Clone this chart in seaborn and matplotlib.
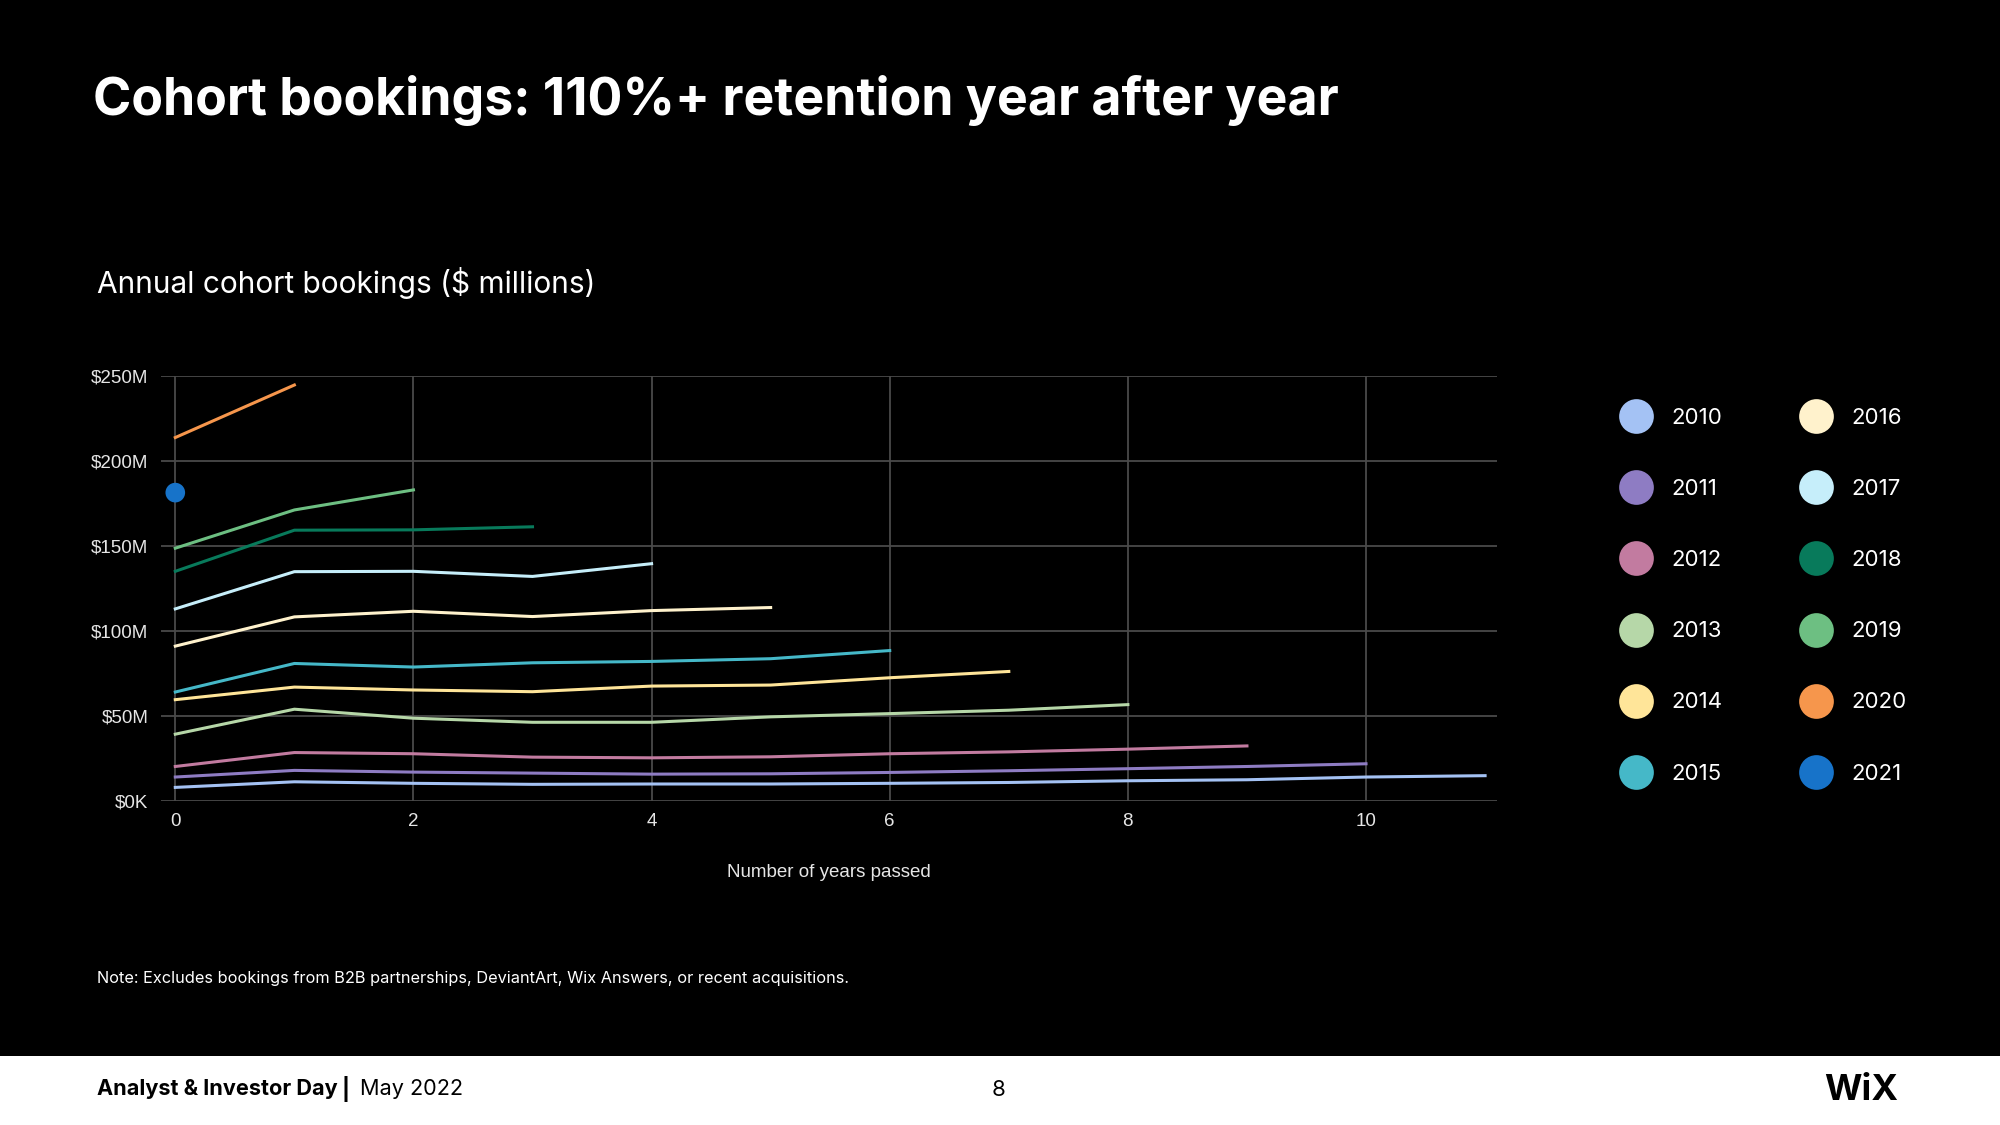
import pandas as pd
import seaborn as sns
import matplotlib
import matplotlib.pyplot as plt
from matplotlib.lines import Line2D
from matplotlib.patches import Rectangle

matplotlib.use('Agg')

# cohort values ($M) per year passed
cohorts = ['2010', '2011', '2012', '2013', '2014', '2015',
           '2016', '2017', '2018', '2019', '2020', '2021']
c2010 = [8.0, 11.3, 10.4, 9.8, 10.0, 10.0, 10.4, 10.9, 11.9, 12.5, 14.1, 14.9]
c2011 = [14.1, 18.0, 17.0, 16.4, 15.8, 16.0, 16.8, 17.8, 19.0, 20.3, 21.9]
c2012 = [20.3, 28.5, 27.8, 25.8, 25.4, 26.0, 27.8, 28.9, 30.5, 32.4]
c2013 = [39.3, 54.0, 48.7, 46.3, 46.3, 49.5, 51.4, 53.4, 56.7]
c2014 = [59.6, 67.0, 65.3, 64.3, 67.6, 68.2, 72.5, 76.2]
c2015 = [64.1, 80.9, 78.8, 81.3, 82.1, 83.7, 88.5]
c2016 = [91.1, 108.3, 111.6, 108.5, 112.0, 113.8]
c2017 = [113.0, 134.9, 135.1, 132.1, 139.6]
c2018 = [135.1, 159.3, 159.5, 161.3]
c2019 = [148.7, 171.2, 183.0]
c2020 = [213.8, 244.7]
c2021 = [181.4]
series = [c2010, c2011, c2012, c2013, c2014, c2015,
          c2016, c2017, c2018, c2019, c2020, c2021]

colors = ['#a4c2f4', '#8e7cc3', '#c27ba0', '#b6d7a8', '#ffe599', '#45b8c8',
          '#fff2cc', '#c6eefa', '#087a5b', '#6dbf82', '#f6964c', '#1773c9']

yticks = [0, 50, 100, 150, 200, 250]
ytick_labels = [r'\$0K', r'\$50M', r'\$100M', r'\$150M', r'\$200M', r'\$250M']
xticks = [0, 2, 4, 6, 8, 10]

rows = []
for name, vals in zip(cohorts, series):
    for yr, v in enumerate(vals):
        rows.append({'cohort': name, 'years': yr, 'bookings': v})
df = pd.DataFrame(rows)
palette = dict(zip(cohorts, colors))

W, H = 2000, 1125
fig = plt.figure(figsize=(20, 11.25), dpi=100, facecolor='black')
ax = fig.add_axes([161 / W, 1 - 801 / H, (1497 - 161) / W, (801 - 376) / H])
ax.set_facecolor('black')

multi = df[df.groupby('cohort')['years'].transform('count') > 1]
single = df[df.groupby('cohort')['years'].transform('count') == 1]
sns.lineplot(data=multi, x='years', y='bookings', hue='cohort', palette=palette,
             linewidth=2.2, legend=False, ax=ax)
sns.scatterplot(data=single, x='years', y='bookings', hue='cohort', palette=palette,
                s=200, edgecolor='none', legend=False, ax=ax, zorder=5)

ax.set_xlim(-0.12, 11.1)
ax.set_ylim(0, 250)
ax.set_xticks(xticks)
ax.set_yticks(yticks)
ax.set_yticklabels(ytick_labels)
for s in ax.spines.values():
    s.set_visible(False)
ax.grid(True, color='#4a4a4a', linewidth=1.3)
ax.set_axisbelow(True)
ax.tick_params(length=0, colors='#e6e6e6', labelsize=13.5, pad=9)
for lab in ax.get_xticklabels() + ax.get_yticklabels():
    lab.set_family('Liberation Sans')
ax.set_xlabel('Number of years passed', color='#e6e6e6', fontsize=13.5,
              family='Liberation Sans', labelpad=24)
ax.set_ylabel('')

# legend
handles = [Line2D([], [], marker='o', ls='', markersize=25, markeredgewidth=0,
                  color=c) for c in colors]
leg = fig.legend(handles, cohorts, ncol=2, loc='upper left',
                 bbox_to_anchor=(1618 / W, 1 - 408 / H), frameon=False,
                 labelspacing=2.3, handlelength=1.6,
                 handletextpad=0.8, columnspacing=3.4, borderpad=0,
                 borderaxespad=0, prop={'family': 'Inter', 'size': 16})
for t in leg.get_texts():
    t.set_color('white')

# texts
fig.text(93 / W, 1 - 100 / H, 'Cohort bookings: 110%+ retention year after year',
         color='white', fontsize=37.3, fontweight='bold', family='Inter', va='center')
fig.text(97 / W, 1 - 283 / H, r'Annual cohort bookings (\$ millions)',
         color='white', fontsize=21.5, family='Inter', va='center')
fig.text(97 / W, 1 - 978 / H,
         'Note: Excludes bookings from B2B partnerships, DeviantArt, Wix Answers, or recent acquisitions.',
         color='white', fontsize=11.75, family='Inter', va='center')

# footer band
fig.patches.append(Rectangle((0, 0), 1, (H - 1056) / H, transform=fig.transFigure,
                             facecolor='white', edgecolor='none'))
fig.text(97 / W, 1 - 1089 / H, 'Analyst & Investor Day', color='black',
         fontsize=15.6, fontweight='bold', family='Inter', va='center')
fig.text(342 / W, 1 - 1089 / H, '|', color='black',
         fontsize=15.6, fontweight='bold', family='Inter', va='center')
fig.text(360 / W, 1 - 1089 / H, 'May 2022', color='black',
         fontsize=15.6, family='Inter', va='center')
fig.text(999 / W, 1 - 1090 / H, '8', color='black',
         fontsize=16, family='Inter', va='center', ha='center')
fig.text(1898 / W, 1 - 1090 / H, 'WiX', color='black',
         fontsize=26, fontweight='bold', family='Inter', va='center', ha='right')

plt.savefig('out.png', dpi=100, facecolor='black')
